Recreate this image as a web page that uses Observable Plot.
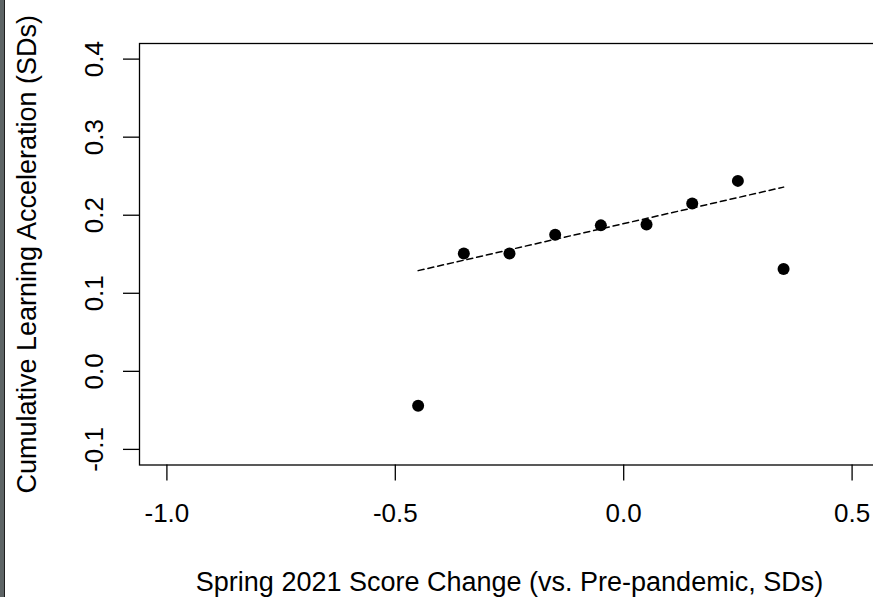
<!DOCTYPE html>
<html>
<head>
<meta charset="utf-8">
<script src="https://cdn.jsdelivr.net/npm/d3@7"></script>
<script src="https://cdn.jsdelivr.net/npm/@observablehq/plot@0.6"></script>
<style>
  html, body { margin: 0; padding: 0; background: #fff; overflow: hidden; }
  #wrap { position: relative; width: 873px; height: 597px; }
  #edge { position: absolute; left: 0; top: 0; width: 4px; height: 597px; background: #5d6465; border-right: 1px solid #1e1e1e; z-index: 2; }
</style>
</head>
<body>
<div id="wrap"><div id="edge"></div></div>
<script>
// Data
const scoreChange = [-0.45, -0.35, -0.25, -0.15, -0.05, 0.05, 0.15, 0.25, 0.35];
const acceleration = [-0.044, 0.151, 0.151, 0.175, 0.187, 0.188, 0.215, 0.244, 0.131];
const fitX = [-0.45, 0.35];
const fitY = [0.129, 0.236];
const xTicks = [-1.0, -0.5, 0.0, 0.5];
const yTicks = [-0.1, 0.0, 0.1, 0.2, 0.3, 0.4];
const xTitle = "Spring 2021 Score Change (vs. Pre-pandemic, SDs)";
const yTitle = "Cumulative Learning Acceleration (SDs)";

const points = scoreChange.map((x, i) => ({x, y: acceleration[i]}));
const fit = fitX.map((x, i) => ({x, y: fitY[i]}));
const fmt = d => d.toFixed(1);

const FONT = "'Liberation Sans', Arial, Helvetica, sans-serif";
const chart = Plot.plot({
  width: 873,
  height: 597,
  marginLeft: 139,
  marginRight: -6,
  marginTop: 43,
  marginBottom: 132.5,
  style: {fontFamily: FONT, fontSize: "26px", color: "#000", background: "transparent", overflow: "visible"},
  x: {domain: [-1.06, 0.56], label: null},
  y: {domain: [-0.12, 0.42], label: null},
  marks: [
    Plot.frame({stroke: "#000", strokeWidth: 1.3}),
    Plot.axisX({ticks: xTicks, tickSize: 16, tickPadding: 23, tickFormat: fmt, fontSize: 26, label: null, strokeWidth: 1.3}),
    Plot.axisY({ticks: yTicks, tickSize: 16, tickFormat: () => "", label: null, strokeWidth: 1.3}),
    Plot.text(yTicks, {y: d => d, text: fmt, frameAnchor: "left", dx: -37, rotate: -90, textAnchor: "middle", lineAnchor: "bottom", fontSize: 26, fill: "#000"}),
    Plot.line(fit, {x: "x", y: "y", stroke: "#000", strokeWidth: 1.5, strokeDasharray: "6,4"}),
    Plot.dot(points, {x: "x", y: "y", r: 6, fill: "#000", stroke: null}),
    Plot.text([xTitle], {frameAnchor: "bottom", dy: 125.5, textAnchor: "middle", lineAnchor: "bottom", text: d => d, fontSize: 27, fill: "#000"}),
    Plot.text([yTitle], {frameAnchor: "left", dx: -104, rotate: -90, textAnchor: "middle", lineAnchor: "bottom", text: d => d, fontSize: 27, fill: "#000"})
  ]
});
chart.style.position = "absolute";
chart.style.left = "0px";
chart.style.top = "0px";
document.getElementById("wrap").appendChild(chart);
</script>
</body>
</html>
